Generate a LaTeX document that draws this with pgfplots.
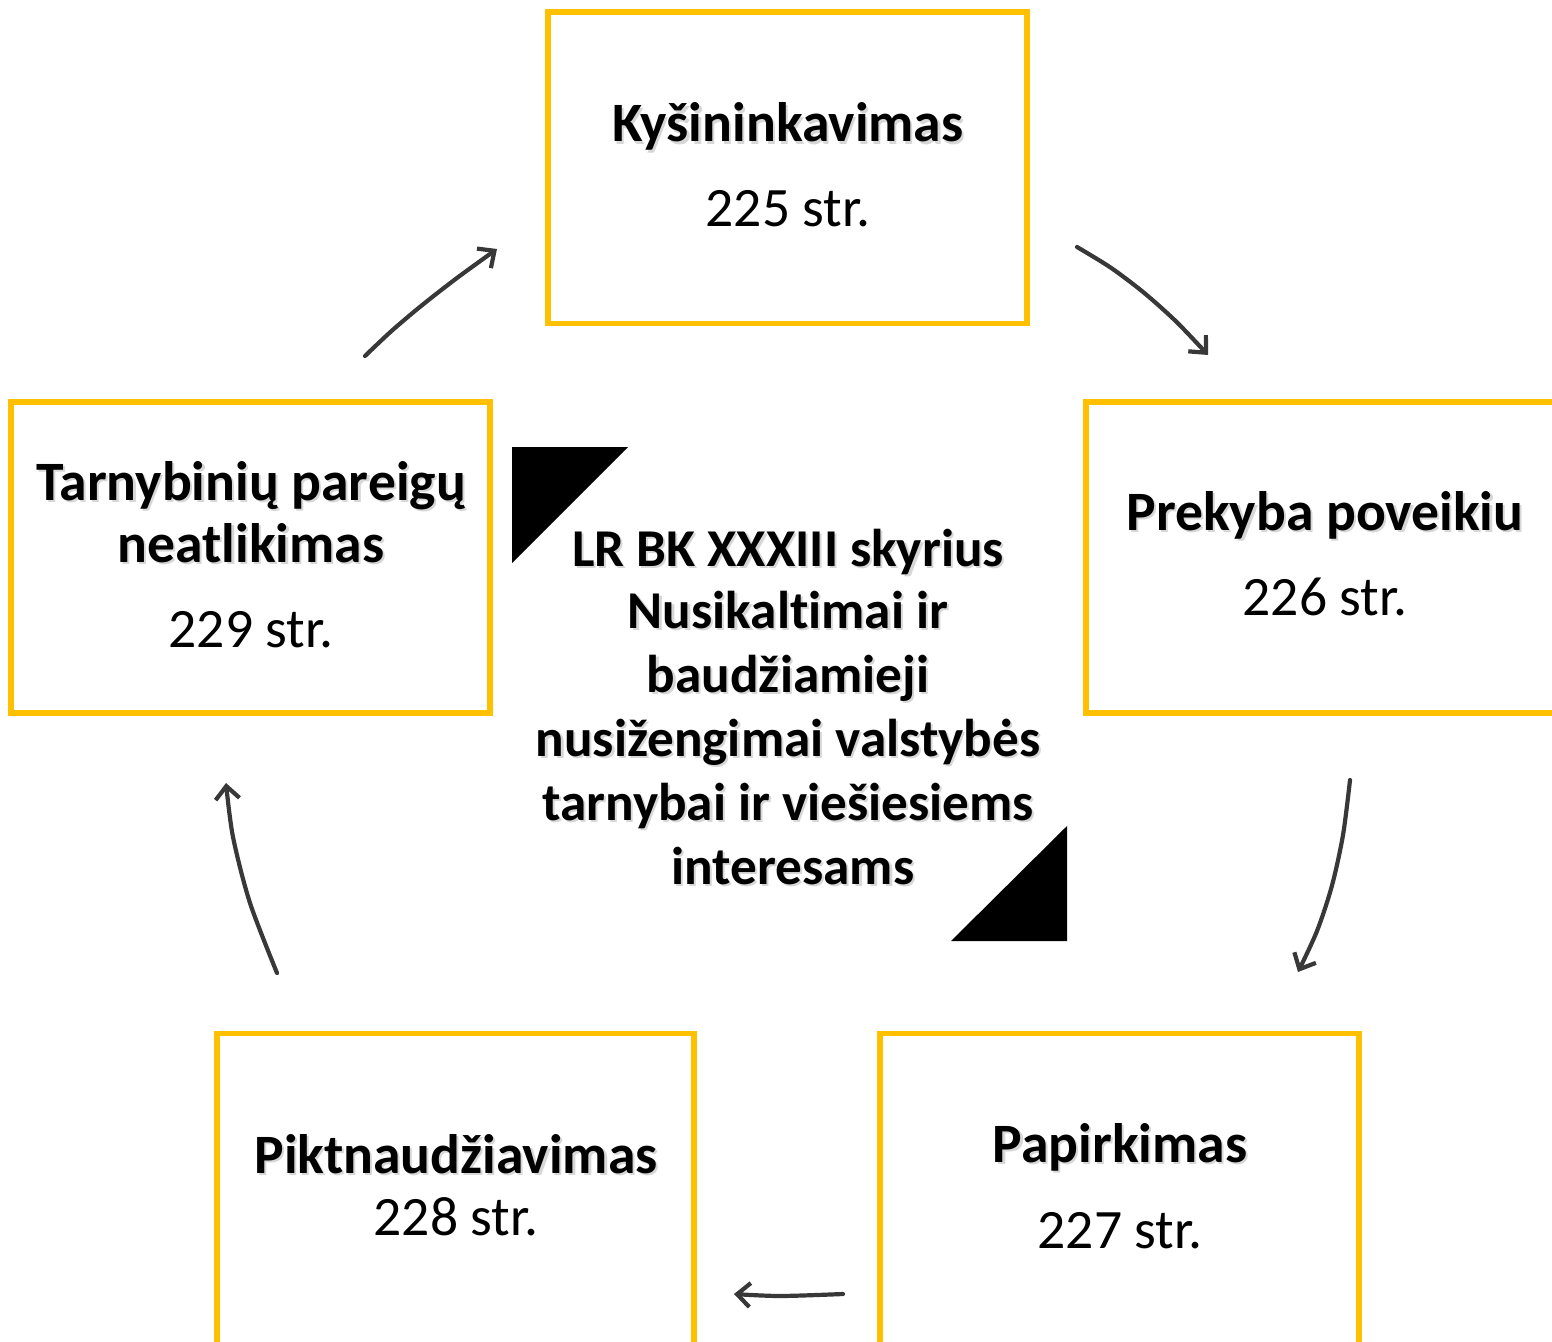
\documentclass[border=0pt]{standalone}
\usepackage{fontspec}
\setmainfont[Ligatures=NoCommon]{Carlito}
\usepackage{pgfplots}
\pgfplotsset{compat=1.18}
\usetikzlibrary{arrows.meta}
\definecolor{gold}{HTML}{FFC000}
\definecolor{arr}{HTML}{383838}
\tikzset{
  lbl/.style={anchor=base, inner sep=0pt, font=\fontsize{27.8}{33}\selectfont},
  bl/.style={anchor=base, inner sep=0pt, font=\fontsize{27.8}{33}\selectfont\bfseries},
  sh/.style={anchor=base, inner sep=0pt, font=\fontsize{27.8}{33}\selectfont\bfseries, text=black!35, opacity=0.45},
  cbl/.style={anchor=base, inner sep=0pt, font=\fontsize{26.6}{32}\selectfont\bfseries},
  csh/.style={anchor=base, inner sep=0pt, font=\fontsize{26.6}{32}\selectfont\bfseries, text=black!35, opacity=0.45},
  ar/.style={arr, line width=2.1pt, smooth, line cap=round, -{Straight Barb[length=6.5pt,width=12pt]}},
}
\newcommand{\bt}[3]{%
  \node[sh] at ([xshift=1.1pt,yshift=-1.1pt]axis cs:#1,#2) {#3};
  \node[bl] at (axis cs:#1,#2) {#3};}
\newcommand{\ct}[3]{%
  \node[csh] at ([xshift=1.1pt,yshift=-1.1pt]axis cs:#1,#2) {#3};
  \node[cbl] at (axis cs:#1,#2) {#3};}
\begin{document}
\begin{tikzpicture}
\begin{axis}[name=ax, scale only axis, width=776pt, height=671pt,
  xmin=0, xmax=1552, ymin=0, ymax=1342, y dir=reverse, hide axis, clip=true]
% boxes
\addplot[gold, line width=2.6pt] coordinates {(548,12) (1027,12) (1027,323.5) (548,323.5)} -- cycle;
\addplot[gold, line width=2.6pt] coordinates {(11,402) (490,402) (490,713) (11,713)} -- cycle;
\addplot[gold, line width=2.6pt] coordinates {(1560,402) (1086,402) (1086,713) (1560,713)};
\addplot[gold, line width=2.6pt] coordinates {(217,1350) (217,1033.5) (694,1033.5) (694,1350)};
\addplot[gold, line width=2.6pt] coordinates {(880,1350) (880,1033.5) (1359,1033.5) (1359,1350)};
% triangles
\addplot[fill=black, draw=none] coordinates {(512,447) (628,447) (512,563)} -- cycle;
\addplot[fill=black, draw=none] coordinates {(1067,826) (1067,941) (951,941)} -- cycle;
% arrows
\addplot[ar] coordinates {(365,356) (391.5,331) (422.4,304.9) (457.5,277.6) (497,249)};
\addplot[ar] coordinates {(1077,247) (1110.8,267.7) (1143.9,292.7) (1176.3,321.7) (1208,355)};
\addplot[ar] coordinates {(1350,780) (1343,835) (1332,885.4) (1317,931) (1298,972)};
\addplot[ar] coordinates {(843,1294) (780,1296) (734,1294)};
\addplot[ar] coordinates {(277,973) (250,903) (233,837) (226,783)};
% texts
\bt{788}{142}{Kyšininkavimas}
\node[lbl] at (axis cs:788,227) {225 str.};
\bt{251}{500}{Tarnybinių pareigų}
\bt{251}{562}{neatlikimas}
\node[lbl] at (axis cs:251,647) {229 str.};
\bt{1325}{530}{Prekyba poveikiu}
\node[lbl] at (axis cs:1325,615) {226 str.};
\bt{456}{1173}{Piktnaudžiavimas}
\node[lbl] at (axis cs:456,1235) {228 str.};
\bt{1120}{1162}{Papirkimas}
\node[lbl] at (axis cs:1120,1248) {227 str.};
\ct{788}{566}{LR BK XXXIII skyrius}
\ct{788}{628}{Nusikaltimai ir}
\ct{788}{692}{baudžiamieji}
\ct{788}{756}{nusižengimai valstybės}
\ct{788}{820}{tarnybai ir viešiesiems}
\ct{793}{884}{interesams}
\end{axis}
\pgfresetboundingbox
\path (ax.south west) rectangle (ax.north east);
\end{tikzpicture}
\end{document}
